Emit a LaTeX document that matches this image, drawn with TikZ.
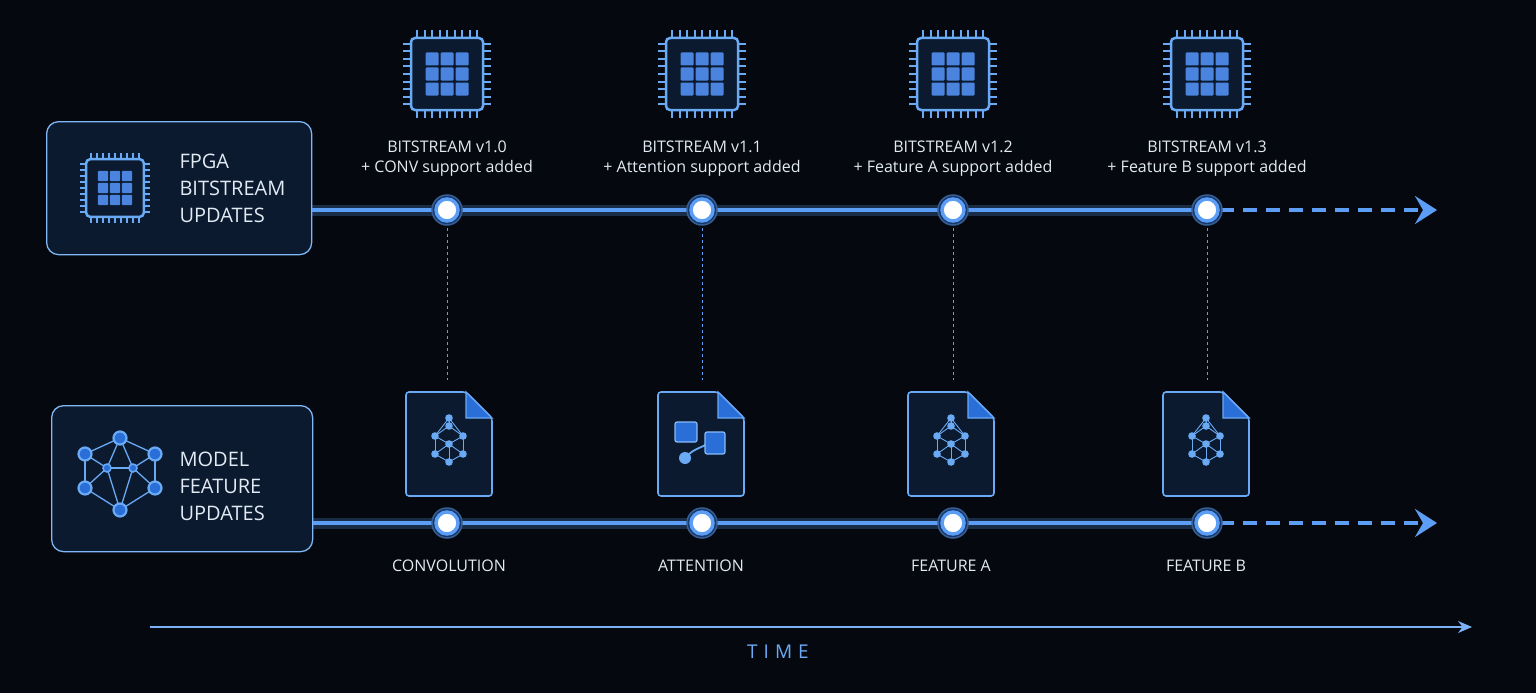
\documentclass[tikz,border=0pt]{standalone}
\usepackage{fontspec}
\setmainfont{Open Sans}
\usetikzlibrary{arrows.meta}
\definecolor{bg}{HTML}{05080E}
\definecolor{lb}{HTML}{6AAAF5}
\definecolor{line}{HTML}{5C9EF5}
\definecolor{boxfill}{HTML}{0B1A2E}
\definecolor{sq}{HTML}{2A6ED8}
\definecolor{tx}{HTML}{E2EAF4}
\tikzset{
 panel/.style={draw=lb!85, line width=1.3pt, fill=boxfill, rounded corners=12pt},
 tline/.style={line, line width=4.5pt},
 glow/.style={line, line width=11pt, opacity=0.25},
 dot/.style={circle, draw=line, line width=3.5pt, fill=white, minimum size=22pt, inner sep=0pt},
 dotring/.style={circle, draw=sq!60!black, line width=2.5pt, minimum size=16pt, inner sep=0pt},
 lab/.style={text=tx, font=\fontsize{16}{20}\selectfont, align=center},
 vdash/.style={line, line width=0.8pt, dashed},
 pics/chip/.style={code={
   \foreach \k in {-30,-22.5,...,30}{
     \draw[lb, line width=2pt] (\k,-36)--(\k,-44);
     \draw[lb, line width=2pt] (\k,36)--(\k,44);
     \draw[lb, line width=2pt] (-36,\k)--(-44,\k);
     \draw[lb, line width=2pt] (36,\k)--(44,\k);}
   \draw[lb, line width=2.5pt, fill=boxfill, rounded corners=4pt] (-36,-36) rectangle (36,36);
   \foreach \i in {-1,0,1}\foreach \j in {-1,0,1}
     \fill[sq!85!white, rounded corners=1pt] (\i*15-6.5,\j*15-6.5) rectangle (\i*15+6.5,\j*15+6.5);
 }},
 pics/doc/.style={code={
   \draw[lb, line width=1.6pt, fill=boxfill, rounded corners=3pt] (-43,52)--(-43,-52)--(17,-52)--(43,-26)--(43,52)--cycle;
   \draw[lb, line width=1.4pt, fill=sq] (17,-52)--(17,-26)--(43,-26)--cycle;
 }},
 pics/net/.style={code={
   \coordinate (p1) at (0,-14); \coordinate (p2) at (-14,-4); \coordinate (p3) at (14,-4);
   \coordinate (p4) at (0,4); \coordinate (p5) at (-14,14); \coordinate (p6) at (14,14);
   \coordinate (p7) at (0,22); \coordinate (p0) at (0,-22);
   \foreach \a/\b in {p0/p2,p0/p3,p0/p1,p2/p4,p3/p4,p1/p2,p1/p3,p4/p5,p4/p6,p5/p7,p6/p7,p4/p7,p2/p5,p3/p6}
     \draw[lb, line width=0.9pt] (\a)--(\b);
   \foreach \p in {p0,p1,p2,p3,p4,p5,p6,p7} \fill[lb] (\p) circle (3.8);
 }}
}
\begin{document}
\begin{tikzpicture}[x=1pt,y=-1pt]
\fill[bg] (0,0) rectangle (1536,693);
\useasboundingbox (0,0) rectangle (1536,693);

% panels
\node[panel, minimum width=265pt, minimum height=133pt, anchor=north west] (top) at (46,121) {};
\node[panel, minimum width=261pt, minimum height=146pt, anchor=north west] (bot) at (51,405) {};
\pic[scale=0.8] at (115,188) {chip};
\node[lab, anchor=west, align=left, font=\fontsize{20}{27}\selectfont] (toptxt) at (176,188) {FPGA\\BITSTREAM\\UPDATES};
\node[lab, anchor=west, align=left, font=\fontsize{20}{27}\selectfont] (bottxt) at (176,486) {MODEL\\FEATURE\\UPDATES};
% big network icon
\begin{scope}[shift={(120,474)}]
 \coordinate (n1) at (0,-36); \coordinate (n2) at (-35,-20); \coordinate (n3) at (35,-20);
 \coordinate (n4) at (-13,-6); \coordinate (n5) at (13,-6);
 \coordinate (n6) at (-35,14); \coordinate (n7) at (35,14); \coordinate (n8) at (0,36);
 \foreach \a/\b in {n1/n2,n1/n3,n1/n4,n1/n5,n2/n4,n3/n5,n4/n5,n4/n6,n5/n7,n6/n8,n7/n8,n4/n8,n5/n8,n2/n6,n3/n7}
   \draw[lb, line width=1.3pt] (\a)--(\b);
 \foreach \p in {n1,n2,n3,n6,n7,n8} \draw[lb, line width=2.2pt, fill=sq] (\p) circle (6.5);
 \foreach \p in {n4,n5} \draw[lb, line width=1.5pt, fill=sq] (\p) circle (4);
\end{scope}

% timelines
\foreach \r/\y in {t/210,b/523}{
  \foreach \x [count=\i] in {447,702,953,1207}
    \node[dot] (\r\i) at (\x,\y) {};
  \coordinate (\r end) at (1437,\y);
}
\draw[glow] (top.east |- t1) -- (t4.center);
\draw[glow] (bot.east |- b1) -- (b4.center);
\draw[tline] (top.east |- t1) -- (t1) (t1)--(t2) (t2)--(t3) (t3)--(t4);
\draw[tline] (bot.east |- b1) -- (b1) (b1)--(b2) (b2)--(b3) (b3)--(b4);
\draw[tline, dash pattern=on 14pt off 9pt, -{Stealth[length=22pt,width=28pt,inset=8pt]}] (t4) -- (tend);
\draw[tline, dash pattern=on 14pt off 9pt, -{Stealth[length=22pt,width=28pt,inset=8pt]}] (b4) -- (bend);
\foreach \i in {1,2,3,4}{
  \node[dot, fill=sq!50!black, draw=line!60!black, minimum size=30pt, line width=1.5pt] at (t\i) {};
  \node[dot] at (t\i) {};
  \node[dot, fill=sq!50!black, draw=line!60!black, minimum size=30pt, line width=1.5pt] at (b\i) {};
  \node[dot] at (b\i) {};
}

% chips, labels
\foreach \x/\v/\f [count=\i] in {447/1.0/CONV,702/1.1/Attention,953/1.2/Feature A,1207/1.3/Feature B}{
  \pic at (\x,74) {chip};
  \node[lab] (bl\i) at (\x,159) {BITSTREAM v\v\\+ \f\ support added};
  \coordinate (dt\i) at (\x,228);
  \coordinate (db\i) at (\x,380);
  \draw[vdash] (dt\i) -- (db\i);
}
% documents
\foreach \x/\n [count=\i] in {449/CONVOLUTION,701/ATTENTION,951/FEATURE A,1206/FEATURE B}{
  \pic at (\x,444) {doc};
  \node[lab] (fl\i) at (\x,566) {\n};
}
\pic at (449,440) {net};
\pic at (951,440) {net};
\pic at (1206,440) {net};
% attention icon
\begin{scope}[shift={(701,442)}]
 \draw[lb, line width=1.8pt] (-14,14) .. controls (-6,6) and (0,6) .. (6,2);
 \fill[lb] (-16,16) circle (6);
 \draw[lb!80!white, line width=1.2pt, fill=sq, rounded corners=2pt] (-26,-20) rectangle (-4,0);
 \draw[lb!80!white, line width=1.2pt, fill=sq, rounded corners=2pt] (4,-10) rectangle (24,12);
\end{scope}

% time axis
\coordinate (ta) at (150,627);
\coordinate (tb) at (1472,627);
\draw[line!80, line width=1.3pt, -{Stealth[length=14pt,width=12pt]}] (ta) -- (tb);
\node[text=lb, font=\fontsize{19}{22}\selectfont] (time) at (778,652) {T\hspace{6pt}I\hspace{6pt}M\hspace{6pt}E};
\end{tikzpicture}
\end{document}
